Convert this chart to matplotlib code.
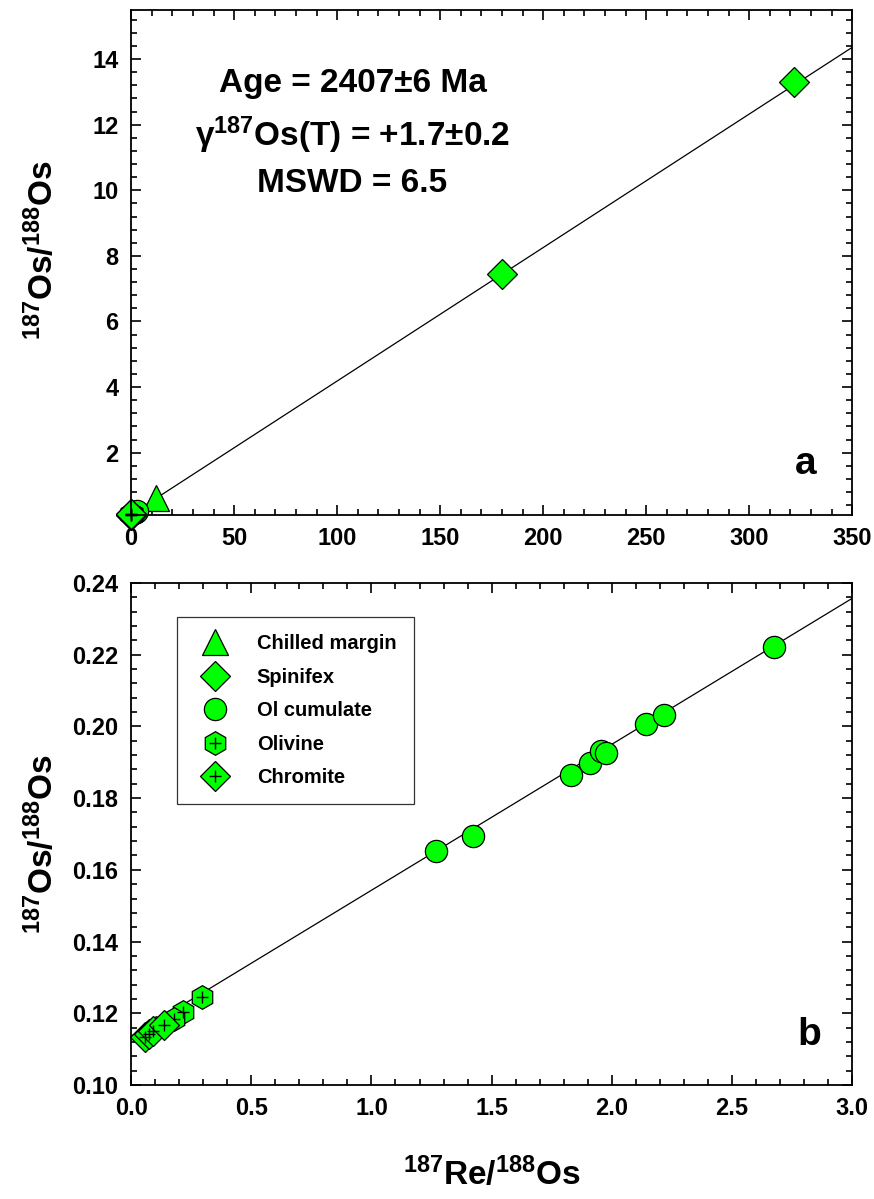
import matplotlib
matplotlib.use("Agg")
import matplotlib.pyplot as plt
from matplotlib.ticker import MultipleLocator, FormatStrFormatter

plt.rcParams['font.family'] = ['Liberation Sans Narrow', 'Liberation Sans', 'DejaVu Sans']
plt.rcParams['font.weight'] = 'bold'
plt.rcParams['mathtext.fontset'] = 'custom'
plt.rcParams['mathtext.rm'] = 'Liberation Sans:bold'
plt.rcParams['mathtext.bf'] = 'Liberation Sans:bold'
plt.rcParams['mathtext.default'] = 'rm'

# data
chilled_re = [12.2]
chilled_os = [0.61]
spinifex_re = [180.0, 322.0]
spinifex_os = [7.45, 13.30]
olcum_re = [1.267, 1.421, 1.832, 1.908, 1.957, 1.975, 2.144, 2.218, 2.674]
olcum_os = [0.1653, 0.1694, 0.1865, 0.1897, 0.1932, 0.1925, 0.2006, 0.2032, 0.2222]
olivine_re = [0.293, 0.215, 0.180, 0.105]
olivine_os = [0.1245, 0.1203, 0.1183, 0.1160]
chromite_re = [0.058, 0.075, 0.092, 0.135]
chromite_os = [0.1135, 0.1142, 0.1150, 0.1167]

# isochron
iso_slope = 0.0407
iso_int = 0.1136

green = '#00ff00'

fig = plt.figure(figsize=(8.74, 11.99), dpi=100)
ax1 = fig.add_axes([0.150, 0.5705, 0.825, 0.4212])
ax2 = fig.add_axes([0.150, 0.0951, 0.825, 0.4187])

def draw(ax, xmax):
    ax.plot([0, xmax], [iso_int, iso_int + iso_slope * xmax], color='black', lw=0.9, zorder=1)
    h1, = ax.plot(chilled_re, chilled_os, ls='none', marker='^', ms=19, mfc=green, mec='black', mew=0.9, clip_on=False)
    h2, = ax.plot(spinifex_re, spinifex_os, ls='none', marker='D', ms=15, mfc=green, mec='black', mew=0.9, clip_on=False)
    h3, = ax.plot(olcum_re, olcum_os, ls='none', marker='o', ms=16, mfc=green, mec='black', mew=0.9, clip_on=False)
    h4, = ax.plot(olivine_re, olivine_os, ls='none', marker='h', ms=17, mfc=green, mec='black', mew=0.9, clip_on=False)
    p4, = ax.plot(olivine_re, olivine_os, ls='none', marker='+', ms=9, mec='black', mew=1.0, clip_on=False)
    h5, = ax.plot(chromite_re, chromite_os, ls='none', marker='D', ms=15, mfc=green, mec='black', mew=0.9, clip_on=False)
    p5, = ax.plot(chromite_re, chromite_os, ls='none', marker='+', ms=9, mec='black', mew=1.0, clip_on=False)
    return h1, h2, h3, (h4, p4), (h5, p5)

def style(ax):
    ax.tick_params(which='both', direction='in', top=True, right=True, labelsize=17, width=1.2, pad=9)
    ax.tick_params(which='major', length=7)
    ax.tick_params(which='minor', length=4)
    for s in ax.spines.values():
        s.set_linewidth(1.3)
    for lab in ax.get_xticklabels() + ax.get_yticklabels():
        lab.set_fontweight('bold')

ylab = r'$^{187}$Os/$^{188}$Os'

# panel a
draw(ax1, 350)
ax1.set_xlim(0, 350)
ax1.set_ylim(0.1, 15.5)
ax1.xaxis.set_major_locator(MultipleLocator(50))
ax1.xaxis.set_minor_locator(MultipleLocator(10))
ax1.yaxis.set_minor_locator(MultipleLocator(0.4))
ax1.set_yticks([2, 4, 6, 8, 10, 12, 14])
style(ax1)
ax1.set_ylabel(ylab, fontsize=24, fontweight='bold')
ax1.yaxis.set_label_coords(-0.098, 0.525)
ax1.text(0.307, 0.855, 'Age = 2407±6 Ma', transform=ax1.transAxes, ha='center', va='center', fontsize=24, fontweight='bold')
ax1.text(0.307, 0.752, r'γ$^{187}$Os(T) = +1.7±0.2', transform=ax1.transAxes, ha='center', va='center', fontsize=24, fontweight='bold')
ax1.text(0.307, 0.657, 'MSWD = 6.5', transform=ax1.transAxes, ha='center', va='center', fontsize=24, fontweight='bold')
ax1.text(0.935, 0.10, 'a', transform=ax1.transAxes, ha='center', va='center', fontsize=28, fontweight='bold')

# panel b
handles = draw(ax2, 3.0)
ax2.set_xlim(0, 3.0)
ax2.set_ylim(0.10, 0.24)
ax2.xaxis.set_major_locator(MultipleLocator(0.5))
ax2.xaxis.set_minor_locator(MultipleLocator(0.1))
ax2.yaxis.set_major_locator(MultipleLocator(0.02))
ax2.yaxis.set_minor_locator(MultipleLocator(0.004))
ax2.xaxis.set_major_formatter(FormatStrFormatter('%.1f'))
ax2.yaxis.set_major_formatter(FormatStrFormatter('%.2f'))
style(ax2)
ax2.set_ylabel(ylab, fontsize=24, fontweight='bold')
ax2.yaxis.set_label_coords(-0.098, 0.48)
ax2.set_xlabel(r'$^{187}$Re/$^{188}$Os', fontsize=24, fontweight='bold', labelpad=26)
ax2.text(0.94, 0.10, 'b', transform=ax2.transAxes, ha='center', va='center', fontsize=28, fontweight='bold')

leg = ax2.legend(handles, ['Chilled margin', 'Spinifex', 'Ol cumulate', 'Olivine', 'Chromite'],
                 loc='upper left', bbox_to_anchor=(0.064, 0.932), frameon=True, fancybox=False,
                 edgecolor='black', borderpad=0.85, labelspacing=0.72,
                 handletextpad=1.1, borderaxespad=0, markerscale=1.0,
                 prop={'weight': 'bold', 'size': 14.5})
leg.get_frame().set_linewidth(0.9)

fig.savefig('out.png', dpi=100)
